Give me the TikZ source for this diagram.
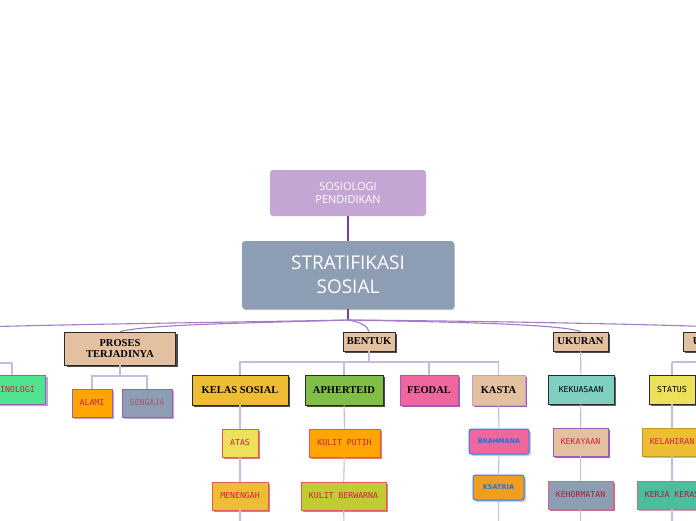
\documentclass[tikz,border=0pt]{standalone}
\usepackage{fontspec}
\setmainfont{Open Sans}
\newfontfamily\hfont{Liberation Serif}
\newfontfamily\pfont{DejaVu Sans Mono}
\newfontfamily\bfont{DejaVu Sans}
\usetikzlibrary{shadows}
\definecolor{sosfill}{HTML}{C3A6D4}
\definecolor{slate}{HTML}{8C9DB4}
\definecolor{tan}{HTML}{E3C0A0}
\definecolor{gold}{HTML}{EDBE34}
\definecolor{grn}{HTML}{80BE48}
\definecolor{pnk}{HTML}{F0679E}
\definecolor{teal}{HTML}{7FCFC3}
\definecolor{yel}{HTML}{EDE15B}
\definecolor{org}{HTML}{FFA500}
\definecolor{ygrn}{HTML}{BECE31}
\definecolor{org2}{HTML}{F09E22}
\definecolor{kgrn}{HTML}{4DBE9D}
\definecolor{mint}{HTML}{4FE38F}
\definecolor{hdline}{HTML}{2B2B2B}
\definecolor{purB}{HTML}{9A5FB8}
\definecolor{redB}{HTML}{E05A5A}
\definecolor{bluB}{HTML}{2A7DE1}
\definecolor{pnkB}{HTML}{D06A88}
\definecolor{cred}{HTML}{D01F45}
\definecolor{cblue}{HTML}{1E6FE0}
\definecolor{hubc}{HTML}{7A3E9E}
\definecolor{brc}{HTML}{A27CC6}
\definecolor{lnc}{HTML}{CDB8DF}
\begin{document}
\begin{tikzpicture}[x=1pt,y=-1pt,
  sz/.style 2 args={minimum width=#1pt, minimum height=#2pt},
  sh/.style={drop shadow={shadow xshift=2pt,shadow yshift=-2pt,opacity=1,fill=#1}},
  topbox/.style={rectangle, rounded corners=3pt, inner sep=0pt, align=center, text=white},
  hd/.style={rectangle, draw=hdline, line width=0.9pt, fill=tan, inner sep=0pt, align=center,
     font=\hfont\bfseries\fontsize{10.5}{11.5}\selectfont, text=black, sh=black!70},
  ch/.style={rectangle, draw=purB, line width=0.8pt, inner sep=0pt,
     font=\pfont\fontsize{8.2}{9}\selectfont, text=cred},
  bl/.style={rectangle, rounded corners=2.5pt, draw=bluB, line width=1pt, inner sep=0pt,
     font=\bfont\bfseries\fontsize{6.5}{7}\selectfont, text=cblue, sh=black!20},
  hubline/.style={draw=hubc, line width=1.8pt},
  br/.style={draw=brc, line width=1.1pt},
  ln/.style={draw=lnc, line width=1.1pt}
]
\useasboundingbox (0,0) rectangle (696,520);
\fill[white] (0,0) rectangle (696,520);

% top nodes
\node[topbox, fill=sosfill, sz={156}{46}, font=\fontsize{11}{13}\selectfont] (sos) at (348,193) {SOSIOLOGI\\PENDIDIKAN};
\node[topbox, fill=slate, sz={212}{68}, font=\fontsize{19}{24}\selectfont, drop shadow={shadow xshift=0.8pt,shadow yshift=-1pt,opacity=0.25,fill=black}] (strat) at (348,275) {STRATIFIKASI\\SOSIAL};

% branch heads
\node[hd, sz={111}{33}] (proses) at (120,348.5) {PROSES\\TERJADINYA};
\node[hd, sz={52}{19}] (bentuk) at (369,341.5) {BENTUK};
\node[hd, sz={55}{19}] (ukuran) at (580.5,341.5) {UKURAN};
\node[hd, sz={56}{19}] (unsur) at (711,341.5) {UNSUR};

% hub
\coordinate (hub) at (348,320);
\coordinate (leftend) at (-20,327);
\coordinate (rightend) at (720,327);
\draw[hubline] (sos) -- (strat);
\draw[hubline] (strat) -- (hub);
\draw[br] (hub) .. controls (250,322) and (80,324) .. (leftend);
\draw[br] (hub) .. controls (260,323) and (150,324) .. (proses.north);
\draw[br] (hub) .. controls (360,322) and (368,326) .. (bentuk.north);
\draw[br] (hub) .. controls (450,322) and (560,324) .. (ukuran.north);
\draw[br] (hub) .. controls (480,321) and (640,324) .. (rightend);

% left cut-off branch
\node[ch, fill=mint, sz={70}{29}, sh=purB!60, anchor=east] (krim) at (46,389.5) {KRIMINOLOGI\hspace*{6pt}};
\coordinate (kbus) at (12,363);
\coordinate (kleft) at (-10,363);
\draw[ln] (kleft) -- (kbus);
\draw[ln] (kbus) -- (krim.north -| kbus);

% proses children
\node[ch, fill=org, sz={40}{28}, sh=purB!60] (alami) at (92,403) {ALAMI};
\node[ch, fill=slate, sz={50}{28}, sh=purB!60, text=pnkB!80!black] (sengaja) at (147,403) {SENGAJA};
\coordinate (pbus) at (120,376);
\draw[ln] (proses) -- (pbus);
\draw[ln] (pbus) -| (alami);
\draw[ln] (pbus) -| (sengaja);

% bentuk children
\node[hd, fill=gold, sz={96}{30}] (kelas) at (240,390) {KELAS SOSIAL};
\node[hd, fill=grn, sz={78}{30}] (aph) at (344,390) {APHERTEID};
\node[hd, fill=pnk, draw=purB, sz={58}{30}, sh=purB] (feodal) at (429,390) {FEODAL};
\node[hd, fill=tan, draw=purB!60, sz={53}{30}, sh=purB] (kasta) at (498.5,390) {KASTA};
\coordinate (bbus) at (369,362);
\draw[ln] (bentuk) -- (bbus);
\draw[ln] (bbus) -| (kelas);
\draw[ln] (bbus) -| (aph);
\draw[ln] (bbus) -| (feodal);
\draw[ln] (bbus) -| (kasta);

% kelas sosial children
\node[ch, fill=yel, draw=redB, sz={36}{28}, sh=redB!80] (atas) at (240,443) {ATAS};
\node[ch, fill=gold, draw=redB, sz={56}{28}, sh=redB!80] (menengah) at (240,496) {MENENGAH};
\coordinate (kelend) at (240,530);
\draw[ln] (kelas) -- (atas);
\draw[ln] (atas) -- (menengah);
\draw[ln] (menengah) -- (kelend);

% apherteid children
\node[ch, fill=org, draw=redB, sz={71}{28}, sh=redB!80] (putih) at (344.5,443) {KULIT PUTIH};
\node[ch, fill=ygrn, draw=redB, sz={85}{28}, sh=redB!80] (berwarna) at (343.5,496) {KULIT BERWARNA};
\coordinate (aphend) at (344,530);
\draw[ln] (aph) -- (putih);
\draw[ln] (putih) -- (berwarna);
\draw[ln] (berwarna) -- (aphend);

% kasta children
\node[bl, fill=pnk, sz={60}{25}] (brahmana) at (499,441.5) {BRAHMANA};
\node[bl, fill=org2, sz={51}{25}] (ksatria) at (498.5,487.5) {KSATRIA};
\coordinate (kasend) at (498.5,530);
\draw[ln] (kasta) -- (brahmana);
\draw[ln] (brahmana) -- (ksatria);
\draw[ln] (ksatria) -- (kasend);

% ukuran children
\node[ch, fill=teal, draw=hdline, sz={66}{29}, sh=black!60, text=black] (kekuasaan) at (581,389.5) {KEKUASAAN};
\node[ch, fill=tan, draw=purB, sz={55}{28}, sh=purB] (kekayaan) at (580.5,442) {KEKAYAAN};
\node[ch, fill=slate, draw=pnkB, sz={65}{28}, sh=pnkB, text=cred!85!black] (kehormatan) at (580.5,495) {KEHORMATAN};
\coordinate (ukend) at (580.5,530);
\draw[ln] (ukuran) -- (kekuasaan);
\draw[ln] (kekuasaan) -- (kekayaan);
\draw[ln] (kekayaan) -- (kehormatan);
\draw[ln] (kehormatan) -- (ukend);

% unsur children
\coordinate (ubus) at (672,362);
\coordinate (uright) at (720,362);
\node[ch, fill=yel, draw=hdline, sz={46}{29}, sh=black!60, text=black] (status) at (672,389.5) {STATUS};
\node[ch, fill=gold, draw=gold!80!black, sz={60}{28}, sh=black!25] (kelahiran) at (672,442) {KELAHIRAN};
\node[ch, fill=kgrn, draw=pnkB, sz={70}{28}, sh=pnkB!70, text=cred!85!black] (kerja) at (672,495) {KERJA KERAS};
\coordinate (unend) at (672,530);
\draw[ln] (uright) -- (ubus);
\draw[ln] (ubus) -- (status);
\draw[ln] (status) -- (kelahiran);
\draw[ln] (kelahiran) -- (kerja);
\draw[ln] (kerja) -- (unend);
\end{tikzpicture}
\end{document}
